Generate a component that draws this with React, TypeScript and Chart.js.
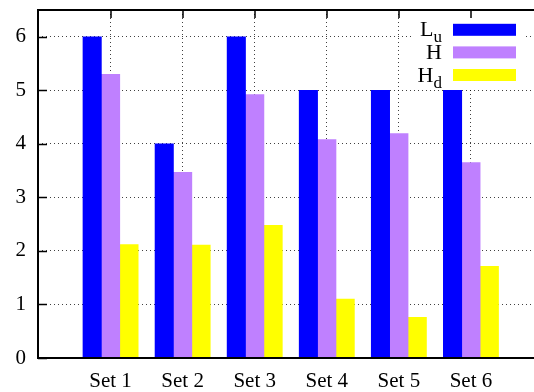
import { useEffect, useRef } from 'react';
import { Chart, registerables } from 'chart.js';

Chart.register(...registerables);

const categories = ['Set 1', 'Set 2', 'Set 3', 'Set 4', 'Set 5', 'Set 6'];
const seriesLu = [6, 4, 6, 5, 5, 5];
const seriesH = [5.3, 3.47, 4.92, 4.08, 4.19, 3.65];
const seriesHd = [2.12, 2.11, 2.48, 1.1, 0.76, 1.71];
const yTicks = [0, 1, 2, 3, 4, 5, 6];
const legendMain = ['L', 'H', 'H'];
const legendSub = ['u', '', 'd'];
const seriesLabels = ['Lu', 'H', 'Hd'];
const colors = ['#0000ff', '#bf80ff', '#ffff00'];

const FONT = '"Liberation Serif", "Times New Roman", serif';
const GRID = 'rgba(0,0,0,0.75)';

const framePlugin = {
  id: 'gnuFrame',
  afterDatasetsDraw(chart: any) {
    const { ctx, chartArea } = chart;
    const { left, top, right, bottom } = chartArea;
    const xs = chart.scales.x;
    const ys = chart.scales.y;
    ctx.save();
    // legend box
    ctx.fillStyle = '#ffffff';
    ctx.fillRect(412, top + 1, 114, 79);
    const rowY0 = 29.8;
    const rowStep = 22.6;
    for (let i = 0; i < legendMain.length; i++) {
      const cy = rowY0 + i * rowStep;
      ctx.fillStyle = colors[i];
      ctx.fillRect(453, cy - 6, 63, 12);
      ctx.fillStyle = '#000';
      ctx.textBaseline = 'alphabetic';
      ctx.textAlign = 'left';
      ctx.font = `22px ${FONT}`;
      const wMain = ctx.measureText(legendMain[i]).width;
      ctx.font = `17px ${FONT}`;
      const wSub = legendSub[i] ? ctx.measureText(legendSub[i]).width : 0;
      const xStart = 442 - wMain - wSub;
      const base = cy + 6.5;
      ctx.font = `22px ${FONT}`;
      ctx.fillText(legendMain[i], xStart, base);
      if (legendSub[i]) {
        ctx.font = `17px ${FONT}`;
        ctx.fillText(legendSub[i], xStart + wMain, base + 6);
      }
    }
    // ticks
    ctx.strokeStyle = '#000';
    ctx.lineWidth = 1.5;
    ctx.beginPath();
    for (const v of yTicks) {
      const py = Math.round(ys.getPixelForValue(v)) + 0.5;
      ctx.moveTo(left, py);
      ctx.lineTo(left + 9, py);
    }
    categories.forEach((_, i) => {
      const px = Math.round(xs.getPixelForValue(i));
      ctx.moveTo(px, top);
      ctx.lineTo(px, top + 8);
    });
    ctx.stroke();
    // frame
    ctx.lineWidth = 2;
    ctx.beginPath();
    ctx.moveTo(right + 2, top);
    ctx.lineTo(left, top);
    ctx.lineTo(left, bottom);
    ctx.lineTo(right + 2, bottom);
    ctx.stroke();
    ctx.restore();
  },
};

export default function App() {
  const ref = useRef<HTMLCanvasElement | null>(null);
  useEffect(() => {
    if (!ref.current) return;
    const mk = (arr: number[]) => arr.map((v, i) => ({ x: i, y: v }));
    const chart = new Chart(ref.current, {
      type: 'bar',
      data: {
        datasets: [
          { label: seriesLabels[0], data: mk(seriesLu), backgroundColor: colors[0], barThickness: 18.4, borderWidth: 0 },
          { label: seriesLabels[1], data: mk(seriesH), backgroundColor: colors[1], barThickness: 18.4, borderWidth: 0 },
          { label: seriesLabels[2], data: mk(seriesHd), backgroundColor: colors[2], barThickness: 18.4, borderWidth: 0 },
        ],
      },
      options: {
        responsive: false,
        animation: false,
        devicePixelRatio: 1,
        layout: { padding: { top: 10, left: 0, right: 0, bottom: 0 } },
        plugins: { legend: { display: false }, tooltip: { enabled: false } },
        scales: {
          x: {
            type: 'linear',
            offset: false,
            min: -1.007,
            max: 5.875,
            afterBuildTicks: (s: any) => {
              s.ticks = categories.map((_, i) => ({ value: i }));
            },
            afterFit: (s: any) => {
              s.height = 34;
              s.paddingLeft = 0;
              s.paddingRight = 0;
            },
            ticks: {
              callback: (v: any) => categories[Math.round(Number(v))] ?? '',
              font: { family: FONT, size: 21 },
              color: '#000',
              padding: 11,
              maxRotation: 0,
              autoSkip: false,
            },
            grid: { color: GRID, lineWidth: 1, drawTicks: false, offset: false },
            border: { display: false, dash: [1, 3] },
          },
          y: {
            type: 'linear',
            min: 0,
            max: 6.5,
            afterBuildTicks: (s: any) => {
              s.ticks = yTicks.map((v) => ({ value: v }));
            },
            afterFit: (s: any) => {
              s.width = 38;
              s.paddingTop = 0;
              s.paddingBottom = 0;
            },
            ticks: {
              font: { family: FONT, size: 21 },
              color: '#000',
              padding: 12,
            },
            grid: { color: GRID, lineWidth: 1, drawTicks: false },
            border: { display: false, dash: [1, 3] },
          },
        },
      },
      plugins: [framePlugin],
    } as any);
    return () => chart.destroy();
  }, []);
  return (
    <div style={{ position: 'absolute', left: 0, top: 0, width: 534, height: 392, overflow: 'hidden', background: '#fff' }}>
      <canvas ref={ref} width={534} height={392} style={{ display: 'block', width: 534, height: 392 }} />
    </div>
  );
}
